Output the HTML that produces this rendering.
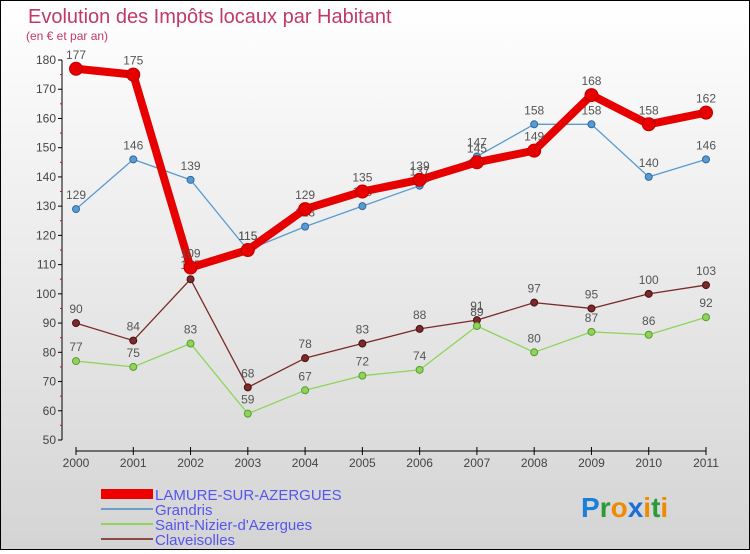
<!DOCTYPE html>
<html><head><meta charset="utf-8"><style>
body{margin:0;width:750px;height:550px;overflow:hidden;font-family:"Liberation Sans",sans-serif}
#wrap{position:relative;width:748px;height:548px;border:1px solid #000;background:linear-gradient(#fff,#d4d4d4)}
</style></head><body>
<div id="wrap">
<svg id="chart" width="748" height="548" xmlns="http://www.w3.org/2000/svg">
<text x="27" y="22" font-size="20" fill="#c0396a">Evolution des Impôts locaux par Habitant</text>
<text x="25" y="39" font-size="12" fill="#c0396a">(en € et par an)</text>
<g id="axes"></g><g id="series"></g>
<g>
<rect x="100" y="488" width="52" height="10" fill="#e00"/>
<text x="154" y="499" font-size="15" fill="#55e">LAMURE-SUR-AZERGUES</text>
<line x1="100" y1="508" x2="152" y2="508" stroke="#6a9ecb" stroke-width="2"/>
<text x="154" y="514" font-size="15" fill="#55e">Grandris</text>
<line x1="100" y1="523" x2="152" y2="523" stroke="#8ed45a" stroke-width="2"/>
<text x="154" y="529" font-size="15" fill="#55e">Saint-Nizier-d'Azergues</text>
<line x1="100" y1="538" x2="152" y2="538" stroke="#8a4a4a" stroke-width="2"/>
<text x="154" y="544" font-size="15" fill="#55e">Claveisolles</text>
</g>
<g font-size="28" font-weight="bold">
<text x="580" y="516"><tspan fill="#1a7fd8">P</tspan><tspan fill="#2a9a3a">r</tspan><tspan fill="#f08a00">o</tspan><tspan fill="#1a6fd8">x</tspan><tspan fill="#f08a00">i</tspan><tspan fill="#2a9a3a">t</tspan><tspan fill="#f08a00">i</tspan></text>
</g>
</svg></div>
<script>
const years=[2000,2001,2002,2003,2004,2005,2006,2007,2008,2009,2010,2011];
const yTicks=[50,60,70,80,90,100,110,120,130,140,150,160,170,180];
const lamure=[177,175,109,115,129,135,139,145,149,168,158,162];
const grandris=[129,146,139,115,123,130,137,147,158,158,140,146];
const saintNizier=[77,75,83,59,67,72,74,89,80,87,86,92];
const claveisolles=[90,84,105,68,78,83,88,91,97,95,100,103];
const NS="http://www.w3.org/2000/svg";
function X(i){return 75+i*(630/11);}
function Y(v){return 59+(180-v)*2.923;}
function mk(tag,attrs,parent){const e=document.createElementNS(NS,tag);for(const k in attrs)e.setAttribute(k,attrs[k]);parent.appendChild(e);return e;}
const ax=document.getElementById('axes');
let yl=mk('line',{x1:61,y1:Y(180),x2:61,y2:Y(50),stroke:'#000','stroke-width':1},ax);


yTicks.forEach(v=>{
 mk('line',{x1:57,y1:Y(v),x2:61,y2:Y(v),stroke:'#000'},ax);
 if(v<180)mk('line',{x1:59,y1:Y(v+5),x2:61,y2:Y(v+5),stroke:'#e00'},ax);
 const t=mk('text',{x:55,y:Y(v)+4,'font-size':12,'text-anchor':'end',fill:'#444'},ax);
 t.textContent=v;
 
 
});
let xl=mk('line',{x1:75,y1:450,x2:705,y2:450,stroke:'#000','stroke-width':1},ax);


years.forEach((y,i)=>{
 mk('line',{x1:X(i),y1:446,x2:X(i),y2:454,stroke:'#000'},ax);
 const t=mk('text',{x:X(i),y:466,'font-size':12,'text-anchor':'middle',fill:'#444'},ax);
 t.textContent=y;
 
 
});
const sg=document.getElementById('series');
function series(vals,color,w,r,name,dark){
 const g=mk('g',{},sg);
 
 
 const pl=mk('polyline',{points:vals.map((v,i)=>X(i)+','+Y(v)).join(' '),fill:'none',stroke:color,'stroke-width':w,'stroke-linejoin':'round'},g);
 
 
 vals.forEach((v,i)=>{
  const c=mk('circle',{cx:X(i),cy:Y(v),r:r,fill:color,stroke:dark,'stroke-width':1},g);
  
  
  const t=mk('text',{x:X(i),y:Y(v)-10,'font-size':12,'text-anchor':'middle',fill:'#555'},g);
  t.textContent=v;
  
  
 });
}
series(claveisolles,'#7a2a2a',1.3,3.5,'claveisolles','#4a1010');
series(saintNizier,'#8ed45a',1.3,3.5,'saint-nizier','#5a9a30');
series(grandris,'#5a9ad0',1.3,3.5,'grandris','#2a6aa0');
series(lamure,'#e60000',8,6.5,'lamure','#c00000');
</script>
</body></html>
